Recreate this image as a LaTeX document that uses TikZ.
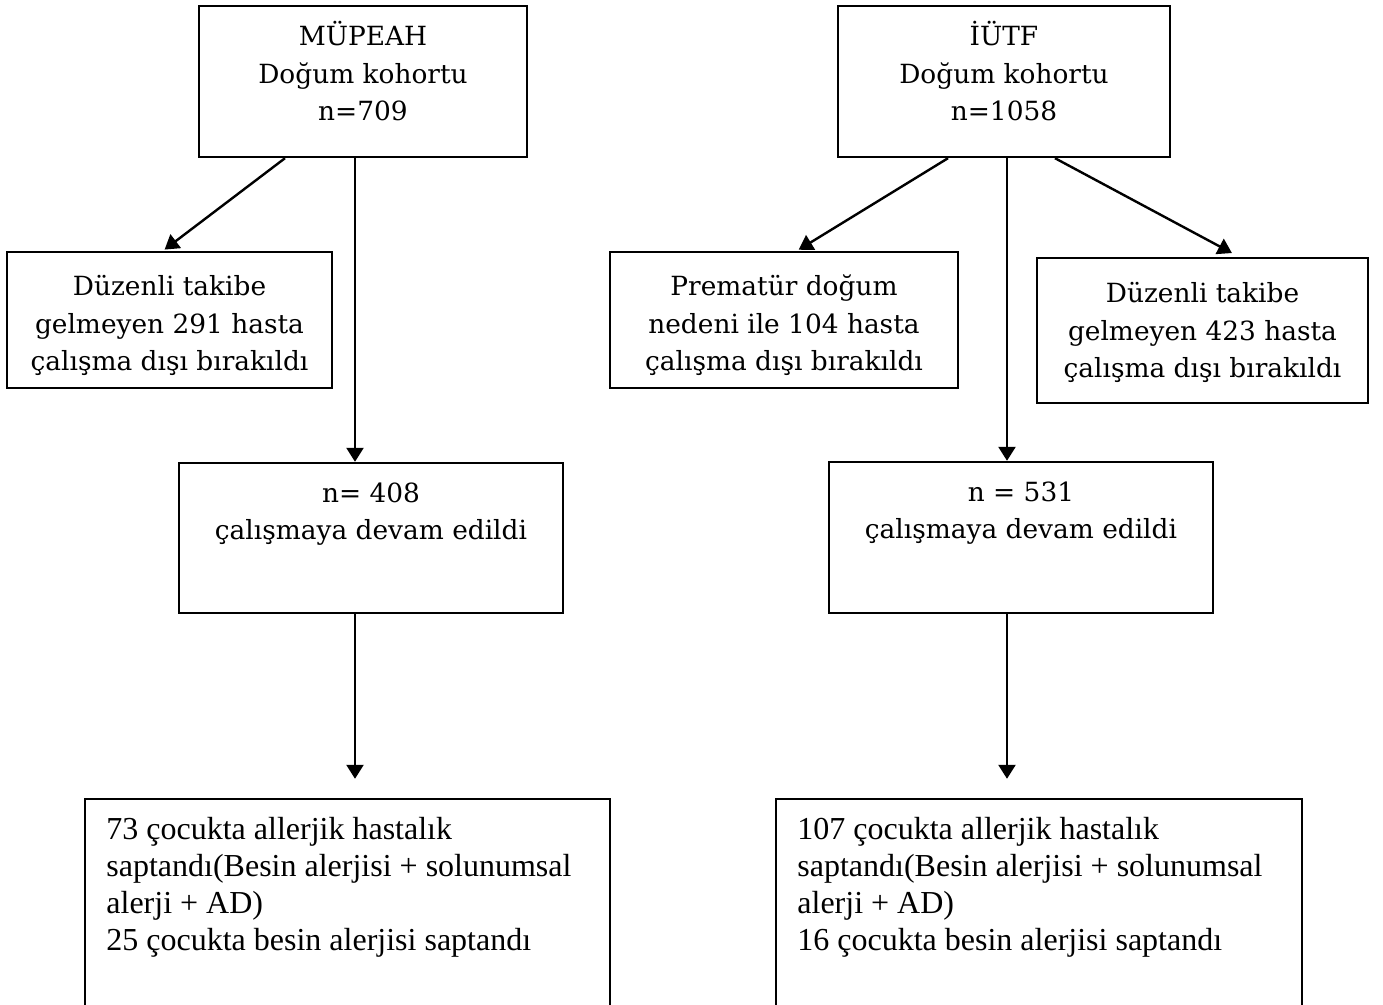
\documentclass[tikz,border=0pt]{standalone}
\usepackage{fontspec}
\setmainfont{Liberation Serif}
\newfontfamily\cambriaish{DejaVu Serif}
\usetikzlibrary{arrows.meta,calc}
\tikzset{
  box/.style ={draw,line width=1.2pt,inner sep=0pt},
  ctxt/.style={font=\cambriaish\fontsize{13.2}{18.75}\selectfont,align=center,inner sep=0pt,anchor=base},
  ttxt/.style={font=\fontsize{16}{18.5}\selectfont,align=left,inner sep=0pt,anchor=base west},
  ar/.style  ={-{Triangle[length=7pt,width=8.5pt]},line width=1.2pt},
}

\begin{document}
\begin{tikzpicture}[x=0.5pt,y=-0.5pt]
  \useasboundingbox (0,0) rectangle (1383,1005);
  % left cohort (text nodes sit on their last baseline)
  \node[box,minimum width=164pt,minimum height=75.5pt] (m1) at (363,81.5) {};
  \node[ctxt] (m1t) at (363,121) {MÜPEAH\\Doğum kohortu\\n=709};
  \node[box,minimum width=162.5pt,minimum height=68pt] (m2) at (169.5,320) {};
  \node[ctxt] (m2t) at (169.5,371) {Düzenli takibe\\gelmeyen 291 hasta\\çalışma dışı bırakıldı};
  \node[box,minimum width=192pt,minimum height=75pt] (m3) at (371,538) {};
  \node[ctxt] (m3t) at (371,540) {n= 408\\çalışmaya devam edildi};
  \node[box,minimum width=262.5pt,minimum height=105.5pt] (m4) at (347.5,904.5) {};
  \node[ttxt] (m4t) at (106,950) {73 çocukta allerjik hastalık\\saptandı(Besin alerjisi + solunumsal\\alerji + AD)\\25 çocukta besin alerjisi saptandı};
  % right cohort
  \node[box,minimum width=166pt,minimum height=75.5pt] (i1) at (1004,81.5) {};
  \node[ctxt] (i1t) at (1004,121) {İÜTF\\Doğum kohortu\\n=1058};
  \node[box,minimum width=174pt,minimum height=68pt] (i2) at (784,320) {};
  \node[ctxt] (i2t) at (784,371) {Prematür doğum\\nedeni ile 104 hasta\\çalışma dışı bırakıldı};
  \node[box,minimum width=165.5pt,minimum height=72.5pt] (i3) at (1202.5,330.5) {};
  \node[ctxt] (i3t) at (1202.5,378) {Düzenli takibe\\gelmeyen 423 hasta\\çalışma dışı bırakıldı};
  \node[box,minimum width=192pt,minimum height=75.5pt] (i4) at (1021,537.5) {};
  \node[ctxt] (i4t) at (1021,539) {n = 531\\çalışmaya devam edildi};
  \node[box,minimum width=263pt,minimum height=105.5pt] (i5) at (1039,904.5) {};
  \node[ttxt] (i5t) at (797,950) {107 çocukta allerjik hastalık\\saptandı(Besin alerjisi + solunumsal\\alerji + AD)\\16 çocukta besin alerjisi saptandı};
  % arrows
  \draw[ar,shorten >=1pt] ([xshift=-39pt]m1.south) -- ([xshift=-3.25pt]m2.north);
  \draw[ar] ([xshift=-4pt]m1.south) -- ([xshift=-4pt]m1.south |- m3.north);
  \draw[ar,shorten >=9.5pt] ([xshift=-8pt]m3.south) -- ([xshift=-8pt]m3.south |- m4.north);
  \draw[ar,shorten >=1pt] ([xshift=-28pt]i1.south) -- ([xshift=6.5pt]i2.north);
  \draw[ar,shorten >=4pt] ([xshift=25.5pt]i1.south) -- ([xshift=18.25pt]i3.north);
  \draw[ar] ([xshift=1.5pt]i1.south) -- ([xshift=1.5pt]i1.south |- i4.north);
  \draw[ar,shorten >=9.5pt] ([xshift=-7pt]i4.south) -- ([xshift=-7pt]i4.south |- i5.north);
\end{tikzpicture}
\end{document}
